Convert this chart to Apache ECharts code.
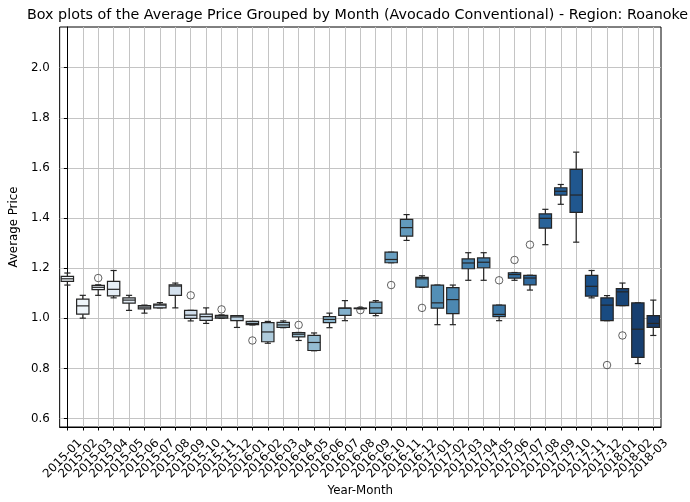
<!DOCTYPE html>
<html lang="en">
<head>
  <meta charset="UTF-8">
  <title>Box plots of the Average Price Grouped by Month</title>
  <script src="https://cdn.jsdelivr.net/npm/echarts@6/dist/echarts.min.js"></script>
</head>
<body>
<div id="chart"></div>
<style>
  html, body {
    margin: 0;
    width: 100%;
    height: 100%;
    background: #fff;
  }
  #chart {
    width: 690px;
    height: 502px;
  }
</style>
<script>
  // month labels on the x axis
  const months = [
    '2015-01', '2015-02', '2015-03', '2015-04', '2015-05', '2015-06', '2015-07', '2015-08',
    '2015-09', '2015-10', '2015-11', '2015-12', '2016-01', '2016-02', '2016-03', '2016-04',
    '2016-05', '2016-06', '2016-07', '2016-08', '2016-09', '2016-10', '2016-11', '2016-12',
    '2017-01', '2017-02', '2017-03', '2017-04', '2017-05', '2017-06', '2017-07', '2017-08',
    '2017-09', '2017-10', '2017-11', '2017-12', '2018-01', '2018-02', '2018-03'
  ];

  // box statistics, one value per month
  const whiskerLow = [
    1.133, 1.001, 1.092, 1.082, 1.032, 1.021, 1.042, 1.042, 0.990, 0.980, 1.000, 0.964, 0.974,
    0.901, 0.963, 0.912, 0.871, 0.963, 0.991, 1.038, 1.011, 1.222, 1.311, 1.124, 0.975, 0.975,
    1.152, 1.152, 0.991, 1.152, 1.113, 1.294, 1.455, 1.304, 1.082, 0.991, 1.051, 0.820, 0.932
  ];
  const quart1 = [
    1.148, 1.017, 1.115, 1.090, 1.061, 1.038, 1.042, 1.092, 1.000, 0.992, 1.001, 0.991, 0.975,
    0.907, 0.964, 0.926, 0.872, 0.983, 1.012, 1.039, 1.020, 1.222, 1.328, 1.125, 1.041, 1.019,
    1.198, 1.202, 1.007, 1.161, 1.134, 1.360, 1.492, 1.423, 1.089, 0.991, 1.051, 0.845, 0.964
  ];
  const medians = [
    1.158, 1.050, 1.124, 1.116, 1.073, 1.045, 1.053, 1.129, 1.013, 1.007, 1.006, 1.006, 0.980,
    0.946, 0.974, 0.937, 0.904, 0.996, 1.041, 1.040, 1.042, 1.235, 1.362, 1.158, 1.062, 1.075,
    1.221, 1.224, 1.016, 1.175, 1.161, 1.399, 1.507, 1.492, 1.128, 1.053, 1.106, 0.957, 0.980
  ];
  const quart3 = [
    1.168, 1.077, 1.132, 1.148, 1.082, 1.051, 1.057, 1.134, 1.032, 1.017, 1.012, 1.011, 0.988,
    0.983, 0.984, 0.943, 0.932, 1.007, 1.041, 1.041, 1.065, 1.264, 1.395, 1.164, 1.133, 1.123,
    1.237, 1.241, 1.053, 1.182, 1.172, 1.417, 1.521, 1.594, 1.172, 1.082, 1.119, 1.062, 1.011
  ];
  const whiskerHigh = [
    1.181, 1.092, 1.134, 1.191, 1.092, 1.053, 1.063, 1.141, 1.032, 1.042, 1.014, 1.011, 0.988,
    0.988, 0.990, 0.944, 0.942, 1.021, 1.071, 1.042, 1.071, 1.264, 1.414, 1.170, 1.133, 1.133,
    1.262, 1.262, 1.053, 1.183, 1.172, 1.435, 1.534, 1.663, 1.191, 1.091, 1.141, 1.062, 1.073
  ];

  // outliers (month index, price)
  const outlierMonth = [2, 8, 10, 12, 15, 19, 21, 23, 28, 29, 30, 35, 36];
  const outlierValue = [1.161, 1.092, 1.036, 0.912, 0.974, 1.033, 1.133, 1.042, 1.152, 1.233, 1.294, 0.814, 0.932];

  const yTicks = [0.6, 0.8, 1.0, 1.2, 1.4, 1.6, 1.8, 2.0];

  // seaborn "Blues" palette, desaturated to 0.75
  const bluesStops = [
    [247, 251, 255], [222, 235, 247], [198, 219, 239], [158, 202, 225], [107, 174, 214],
    [66, 146, 198], [33, 113, 181], [8, 81, 156], [8, 48, 107]
  ];
  function blues(t) {
    const x = t * 8;
    const i = Math.min(7, Math.floor(x));
    const f = x - i;
    return [0, 1, 2].map(k => (bluesStops[i][k] + (bluesStops[i + 1][k] - bluesStops[i][k]) * f) / 255);
  }
  function desaturate(rgb, s) {
    const l = (Math.max(...rgb) + Math.min(...rgb)) / 2;
    return 'rgb(' + rgb.map(c => Math.round((l + (c - l) * s) * 255)).join(',') + ')';
  }
  const colors = months.map((m, i) => desaturate(blues((i + 1) / (months.length + 1)), 0.75));
  const edgeColor = '#252525';
  const font = 'DejaVu Sans';

  const boxData = months.map((m, i) => [i, whiskerLow[i], quart1[i], medians[i], quart3[i], whiskerHigh[i]]);
  const outlierData = outlierMonth.map((m, k) => [m, outlierValue[k]]);

  function renderBox(params, api) {
    const i = api.value(0);
    const half = api.size([0.8, 0])[0] / 2;
    const cap = half / 2;
    const lo = api.coord([i, api.value(1)]);
    const q1 = api.coord([i, api.value(2)]);
    const med = api.coord([i, api.value(3)]);
    const q3 = api.coord([i, api.value(4)]);
    const hi = api.coord([i, api.value(5)]);
    const x = lo[0];
    const line = { stroke: edgeColor, lineWidth: 1.2 };
    return {
      type: 'group',
      children: [
        { type: 'line', shape: { x1: x, y1: lo[1], x2: x, y2: q1[1] }, style: line },
        { type: 'line', shape: { x1: x, y1: q3[1], x2: x, y2: hi[1] }, style: line },
        { type: 'line', shape: { x1: x - cap, y1: lo[1], x2: x + cap, y2: lo[1] }, style: line },
        { type: 'line', shape: { x1: x - cap, y1: hi[1], x2: x + cap, y2: hi[1] }, style: line },
        {
          type: 'rect',
          shape: { x: x - half, y: q3[1], width: half * 2, height: q1[1] - q3[1] },
          style: { fill: colors[params.dataIndex], stroke: edgeColor, lineWidth: 1.2 }
        },
        { type: 'line', shape: { x1: x - half, y1: med[1], x2: x + half, y2: med[1] }, style: line }
      ]
    };
  }

  const chart = echarts.init(document.getElementById('chart'), null, { renderer: 'canvas' });
  chart.setOption({
    animation: false,
    backgroundColor: '#fff',
    title: {
      text: 'Box plots of the Average Price Grouped by Month (Avocado Conventional) - Region: Roanoke',
      left: 27,
      top: 8,
      padding: 0,
      textStyle: { fontFamily: font, fontSize: 14.3, fontWeight: 'normal', color: '#000' }
    },
    grid: {
      left: 55,
      right: 29,
      top: 27,
      bottom: 71,
      show: true,
      borderColor: '#000',
      borderWidth: 1,
      containLabel: false
    },
    xAxis: [
      {
        // value axis: positions, ticks and grid lines at month centres
        type: 'value',
        min: -0.5,
        max: 38.5,
        name: 'Year-Month',
        nameLocation: 'middle',
        nameGap: 58,
        nameTextStyle: { fontFamily: font, fontSize: 11.8, color: '#000' },
        axisLine: { lineStyle: { color: '#000', width: 1 } },
        axisTick: { show: true, length: 3.5, lineStyle: { color: '#000' }, customValues: months.map((m, i) => i) },
        axisLabel: { show: false },
        splitLine: { show: true, lineStyle: { color: '#c4c4c4', width: 1 } }
      },
      {
        // category axis: only the month labels
        type: 'category',
        data: months,
        position: 'bottom',
        axisLine: { show: false },
        axisTick: { show: false },
        splitLine: { show: false },
        axisLabel: {
          interval: 0,
          rotate: 45,
          align: 'center',
          verticalAlign: 'middle',
          padding: [0, 13, 0, 0],
          margin: 27,
          fontFamily: font,
          fontSize: 11.8,
          color: '#000'
        }
      }
    ],
    yAxis: {
      type: 'value',
      min: 0.567,
      max: 2.162,
      name: 'Average Price',
      nameLocation: 'middle',
      nameRotate: 90,
      nameGap: 31,
      nameTextStyle: { fontFamily: font, fontSize: 11.8, color: '#000' },
      axisLine: { show: true, lineStyle: { color: '#000', width: 1 } },
      axisTick: { show: true, length: 3.5, lineStyle: { color: '#000' }, customValues: yTicks },
      axisLabel: {
        customValues: yTicks,
        formatter: v => v.toFixed(1),
        showMinLabel: true,
        showMaxLabel: true,
        margin: 10,
        fontFamily: font,
        fontSize: 11.8,
        color: '#000'
      },
      splitLine: { show: true, lineStyle: { color: '#c4c4c4', width: 1 } }
    },
    series: [
      {
        type: 'custom',
        renderItem: renderBox,
        data: boxData,
        xAxisIndex: 0,
        encode: { x: 0, y: [1, 2, 3, 4, 5] },
        silent: true,
        z: 3
      },
      {
        type: 'scatter',
        data: outlierData,
        xAxisIndex: 0,
        symbol: 'circle',
        symbolSize: 7.5,
        itemStyle: { color: 'rgba(0,0,0,0)', borderColor: '#3a3a3a', borderWidth: 1 },
        silent: true,
        z: 4
      }
    ]
  });
</script>
</body>
</html>
